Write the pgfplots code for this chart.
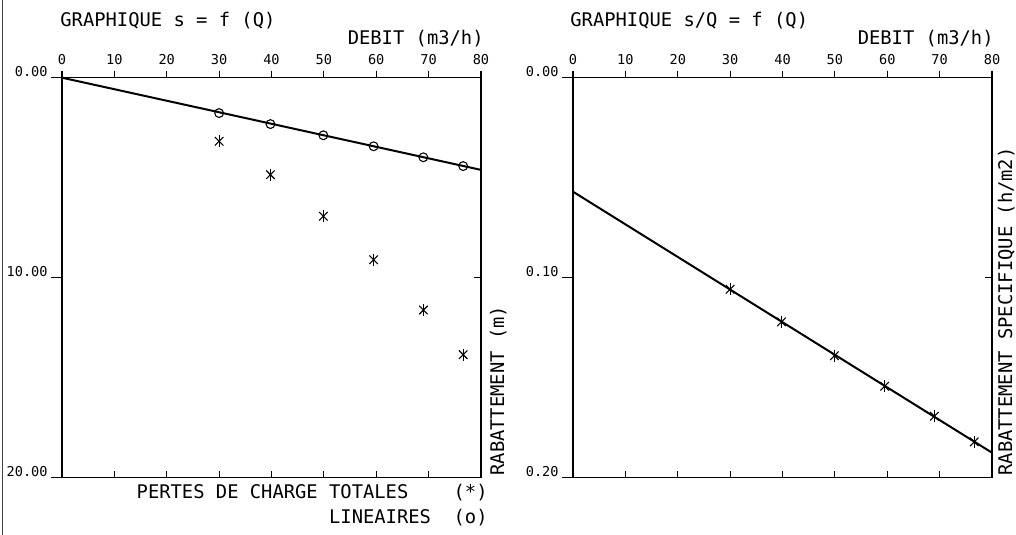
\documentclass[border=0pt]{standalone}
\usepackage{fontspec}
\setmainfont{DejaVu Sans Mono}
\usepackage{pgfplots}
\usepackage{pgfplotstable}
\pgfplotsset{compat=1.18}

% Pumping test: discharge Q (m3/h), linear head losses (m),
% total drawdown (m) and specific drawdown s/Q (h/m2)
\pgfplotstableread{
Q    slin  stot   sq
30.0 1.77  3.18   0.1058
39.8 2.32  4.85   0.1221
49.9 2.88  6.93   0.1390
59.5 3.43  9.10   0.1543
69.0 3.98  11.62  0.1693
76.6 4.42  13.85  0.1821
}\essai

% fitted straight lines
\pgfplotstableread{
Q s
0  0
80 4.61
}\droiteS

\pgfplotstableread{
Q sq
0  0.0570
80 0.1875
}\droiteSQ

\newcommand\fbig{\fontsize{9.4bp}{11bp}\selectfont}
\newcommand\fsmall{\fontsize{6.8bp}{8bp}\selectfont}

\pgfplotsset{
  plotter/.style={
    scale only axis, width=209.5bp, height=200bp,
    xmin=0, xmax=80, y dir=reverse,
    xtick={0,10,20,30,40,50,60,70,80},
    axis line style={line width=0.6bp},
    every tick/.style={line width=0.6bp, black},
    major tick length=3.5bp,
    clip=false,
  },
  % frame, labels and upper ticks
  frameaxis/.style={plotter, tick align=outside,
    xtick pos=right, xticklabel pos=right,
    ytick pos=left, yticklabel pos=left,
    ytick style={draw=none},
    xticklabels={0,10,20,30,40,50,60,70,80},
    xticklabel style={font=\fsmall, inner sep=0pt, anchor=south, yshift=3bp},
    yticklabel style={font=\fsmall, inner sep=0pt, anchor=base east, xshift=-3.5bp, yshift=0.5bp},
  },
  % longer outward ticks on the left side
  leftticks/.style={plotter, tick align=outside, major tick length=5.5bp,
    axis line style={draw=none},
    xtick=\empty, ytick pos=left, yticklabels={},
  },
  % inward ticks on the lower and right sides
  innerticks/.style={plotter, tick align=inside,
    axis line style={draw=none},
    xtick pos=left, ytick pos=right,
    xticklabels={}, yticklabels={},
  },
  star/.style={only marks, mark size=3bp, mark options={line width=0.55bp, black}},
}

\begin{document}
\begin{tikzpicture}[x=0.5bp, y=0.5bp]
\path[use as bounding box] (0,0) rectangle (1016,535);
\draw[black!75, line width=0.7bp] (2.5,0) -- (2.5,535);
\coordinate (LSW) at (62,57.3);
\coordinate (RSW) at (573,57.3);

% ---- s = f(Q) ----
\begin{axis}[frameaxis, at={(LSW)}, anchor=south west,
  ymin=0, ymax=20, ytick={0,10,20}, yticklabels={0.00,10.00,20.00}]
  \addplot[black, line width=1bp] table[x=Q, y=s] {\droiteS};
  \addplot[only marks, mark=o, mark size=2.2bp, mark options={line width=0.55bp, black}]
    table[x=Q, y=slin] {\essai};
  \addplot[star, mark=x] table[x=Q, y=stot] {\essai};
  \addplot[star, mark=|] table[x=Q, y=stot] {\essai};
\end{axis}
\begin{axis}[leftticks, at={(LSW)}, anchor=south west,
  ymin=0, ymax=20, ytick={0,10,20}]
\end{axis}
\begin{axis}[innerticks, at={(LSW)}, anchor=south west,
  ymin=0, ymax=20, ytick={0,10,20}]
\end{axis}

% ---- s/Q = f(Q) ----
\begin{axis}[frameaxis, at={(RSW)}, anchor=south west,
  ymin=0, ymax=0.2, ytick={0,0.1,0.2}, yticklabels={0.00,0.10,0.20}]
  \addplot[black, line width=1bp] table[x=Q, y=sq] {\droiteSQ};
  \addplot[star, mark=x] table[x=Q, y=sq] {\essai};
  \addplot[star, mark=|] table[x=Q, y=sq] {\essai};
\end{axis}
\begin{axis}[leftticks, at={(RSW)}, anchor=south west,
  ymin=0, ymax=0.2, ytick={0,0.1,0.2}]
\end{axis}
\begin{axis}[innerticks, at={(RSW)}, anchor=south west,
  ymin=0, ymax=0.2, ytick={0,0.1,0.2}]
\end{axis}

% ---- titles and labels ----
\node[font=\fbig, anchor=base west, inner sep=0pt] at (60,508) {GRAPHIQUE~s~=~f~(Q)};
\node[font=\fbig, anchor=base west, inner sep=0pt] at (570,508) {GRAPHIQUE~s/Q~=~f~(Q)};
\node[font=\fbig, anchor=base east, inner sep=0pt] at (484,490) {DEBIT~(m3/h)};
\node[font=\fbig, anchor=base east, inner sep=0pt] at (994,490) {DEBIT~(m3/h)};
\node[font=\fbig, anchor=base west, inner sep=0pt, rotate=90] at (504,59) {RABATTEMENT~(m)};
\node[font=\fbig, anchor=base west, inner sep=0pt, rotate=90] at (1012,59) {RABATTEMENT~SPECIFIQUE~(h/m2)};
\node[font=\fbig, anchor=base east, inner sep=0pt] at (488,36) {PERTES~DE~CHARGE~TOTALES~~~~(*)};
\node[font=\fbig, anchor=base east, inner sep=0pt] at (488,11) {LINEAIRES~~(o)};
\end{tikzpicture}
\end{document}
